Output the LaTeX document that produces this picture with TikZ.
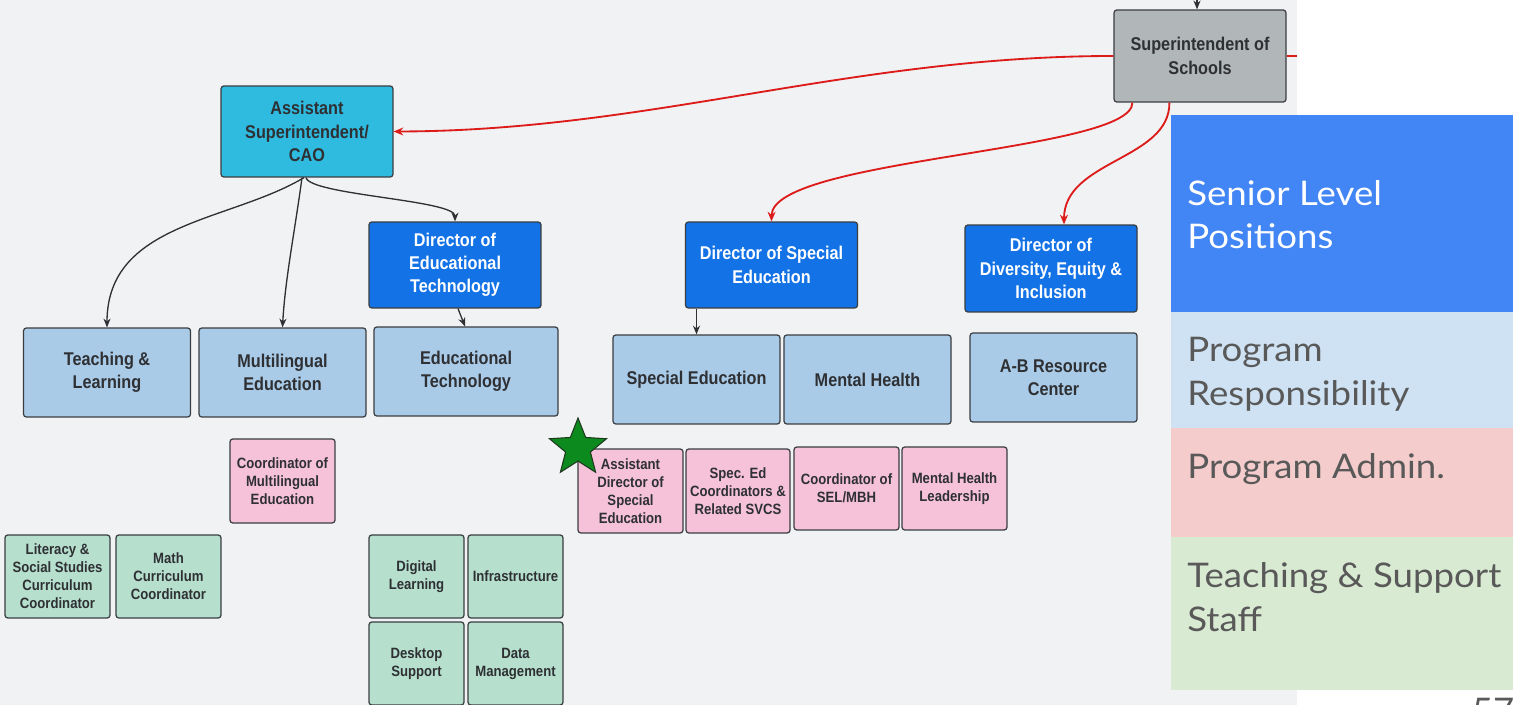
\documentclass[tikz,border=0pt]{standalone}
\usepackage{fontspec}
\usepackage{tikz}
\usetikzlibrary{shapes.geometric}
\usetikzlibrary{arrows.meta}
\usepackage{xcolor}

\newfontfamily\boxfont[FakeStretch=0.88]{Liberation Sans}
\newfontfamily\keyfont[FakeStretch=1.08]{Lato}

\definecolor{canvas}{HTML}{F1F2F4}
\definecolor{boxline}{HTML}{3A3D40}
\definecolor{boxtext}{HTML}{2E3033}
\definecolor{supergray}{HTML}{B1B6B9}
\definecolor{caocyan}{HTML}{2FBBDF}
\definecolor{dirblue}{HTML}{1272E6}
\definecolor{progblue}{HTML}{AACBE8}
\definecolor{adminpink}{HTML}{F5C2DA}
\definecolor{staffgreen}{HTML}{B6DFCE}
\definecolor{linegray}{HTML}{2E3033}
\definecolor{orgred}{HTML}{DD1C1A}
\definecolor{stargreen}{HTML}{0C8A1D}
\definecolor{stardark}{HTML}{1E3A1E}
\definecolor{seniorfill}{HTML}{4285F4}
\definecolor{programfill}{HTML}{CFE2F3}
\definecolor{adminfill}{HTML}{F4CCCC}
\definecolor{stafffill}{HTML}{D9EAD3}
\definecolor{keygray}{HTML}{595959}

\tikzset{
    orgbox/.style={draw=boxline, line width=0.7pt, rounded corners=1.6pt, align=center,
        inner sep=1pt, text=boxtext, font=\boxfont\bfseries\fontsize{10.5}{13.2}\selectfont},
    smallbox/.style={orgbox, font=\boxfont\bfseries\fontsize{8.5}{10.2}\selectfont,
        minimum width=2.1cm, minimum height=1.68cm},
    seniorbox/.style={orgbox, fill=dirblue, text=white, minimum width=3.44cm, minimum height=1.72cm},
    programbox/.style={orgbox, fill=progblue, minimum width=3.34cm, minimum height=1.78cm},
    adminbox/.style={smallbox, fill=adminpink},
    staffbox/.style={smallbox, fill=staffgreen},
    reportline/.style={line width=0.75pt, draw=linegray, -{Stealth[length=5pt,width=4pt]}},
    redline/.style={line width=1.05pt, draw=orgred, -{Stealth[length=5.5pt,width=4.5pt]}},
    keytext/.style={anchor=base west, align=left, inner sep=0pt, text=keygray,
        font=\keyfont\fontsize{19.3}{24.7}\selectfont}
}

\begin{document}
\begin{tikzpicture}[x=0.02cm, y=-0.02cm]
    % 1. Canvas and the white strip on the right
    \useasboundingbox (0,0) rectangle (1513,705);
    \fill[white] (0,0) rectangle (1513,705);
    \fill[canvas] (0,0) rectangle (1297,705);

    % 2. Legend on the right (base = last line)
    \fill[seniorfill] (1171,115) rectangle (1513,312);
    \fill[programfill] (1171,312) rectangle (1513,428);
    \fill[adminfill] (1171,428) rectangle (1513,537);
    \fill[stafffill] (1171,537) rectangle (1513,690);
    \node[keytext, text=white] (keysenior) at (1187,249) {Senior Level\\Positions};
    \node[keytext] (keyprogram) at (1187,405) {Program\\Responsibility};
    \node[keytext] (keyadmin) at (1187,478) {Program Admin.};
    \node[keytext] (keystaff) at (1187,631) {Teaching \& Support\\Staff};
    \node[keytext, anchor=base] (pagenum) at (1493,722) {57};

    % 3. Senior level positions
    \node[orgbox, fill=supergray, minimum width=3.44cm, minimum height=1.84cm] (super) at (1200,56) {Superintendent of\\Schools};
    \node[orgbox, fill=caocyan, minimum width=3.44cm, minimum height=1.82cm] (cao) at (307,131.5) {Assistant\\Superintendent/\\CAO};
    \node[seniorbox] (dirtech) at (455,265) {Director of\\Educational\\Technology};
    \node[seniorbox] (dirsped) at (771.5,265) {Director of Special\\Education};
    \node[seniorbox, minimum height=1.74cm] (dirdei) at (1051,268.5) {Director of\\Diversity, Equity \&\\Inclusion};

    % 4. Program responsibility
    \node[programbox] (teach) at (107,372.5) {Teaching \&\\Learning};
    \node[programbox] (multi) at (282.5,372.5) {Multilingual\\Education};
    \node[programbox, minimum width=3.68cm] (edtech) at (466,371.5) {Educational\\Technology};
    \node[programbox] (sped) at (696.5,379.5) {Special Education};
    \node[programbox] (mh) at (867.5,379.5) {Mental Health};
    \node[programbox] (abrc) at (1053.5,377.5) {A-B Resource\\Center};

    % 5. Program admin
    \node[adminbox] (coordml) at (282.5,481) {Coordinator of\\Multilingual\\Education};
    \node[adminbox] (asstdir) at (630.5,491) {Assistant\\Director of\\Special\\Education};
    \node[adminbox, minimum width=2.08cm] (specco) at (738,491) {Spec. Ed\\Coordinators \&\\Related SVCS};
    \node[adminbox, minimum height=1.66cm] (sel) at (846.5,488.5) {Coordinator of\\SEL/MBH};
    \node[adminbox, minimum height=1.66cm] (mhlead) at (954.5,488.5) {Mental Health\\Leadership};

    % 6. Teaching and support staff
    \node[staffbox, minimum height=1.66cm] (literacy) at (57.5,576.5) {Literacy \&\\Social Studies\\Curriculum\\Coordinator};
    \node[staffbox, minimum height=1.66cm] (math) at (168.5,576.5) {Math\\Curriculum\\Coordinator};
    \node[staffbox, minimum width=1.9cm, minimum height=1.66cm] (digital) at (416.5,576.5) {Digital\\Learning};
    \node[staffbox, minimum width=1.9cm, minimum height=1.66cm] (infra) at (515.5,576.5) {Infrastructure};
    \node[staffbox, minimum width=1.9cm, minimum height=1.66cm] (desktop) at (416.5,663.5) {Desktop\\Support};
    \node[staffbox, minimum width=1.9cm, minimum height=1.66cm] (datamgmt) at (515.5,663.5) {Data\\Management};

    % 7. Red reporting lines from the superintendent
    \coordinate (topfeed) at (1197,0);
    \coordinate (rightedge) at (1297,56);
    \draw[reportline] (topfeed) -- (topfeed |- super.north);
    \draw[redline, -] (super.east) -- (rightedge);
    \draw[redline] (super.west) .. controls (850,56) and (650,131) .. (cao.east);
    \draw[redline] ([xshift=0.38cm]super.south west) .. controls (1133,152) and (772,158) .. (dirsped.north);
    \draw[redline] ([xshift=1.12cm]super.south west) .. controls (1170,160) and (1064,160) .. ([xshift=0.26cm]dirdei.north);

    % 8. Black reporting lines
    \draw[reportline] ([xshift=-0.06cm]cao.south) .. controls (230,222) and (107,222) .. (teach.north);
    \draw[reportline] ([xshift=-0.1cm]cao.south) .. controls (295,230) and (285,280) .. (multi.north);
    \draw[reportline] ([xshift=-0.02cm]cao.south) .. controls (310,195) and (455,200) .. (dirtech.north);
    \draw[reportline] ([xshift=0.06cm]dirtech.south) -- ([xshift=-0.02cm]edtech.north);
    \draw[reportline] (sped.north |- dirsped.south) -- (sped.north);

    % 9. Star on the assistant director
    \node[star, star points=5, star point ratio=2.3, minimum size=1.2cm, inner sep=0pt,
        fill=stargreen, draw=stardark, line width=0.6pt] (spedstar) at (578,448) {};
\end{tikzpicture}
\end{document}
